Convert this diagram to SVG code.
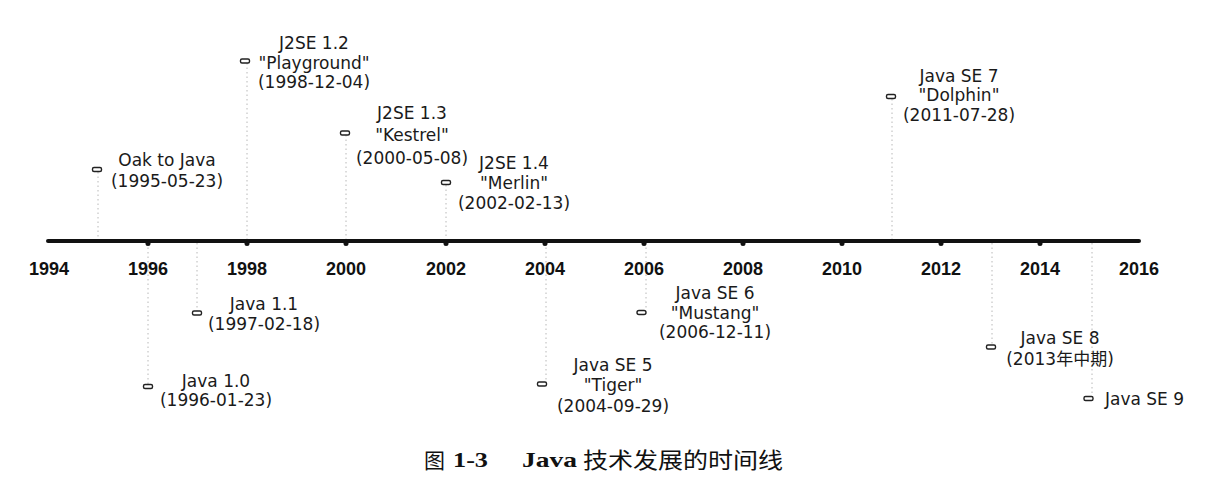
<svg xmlns="http://www.w3.org/2000/svg" width="1227" height="504" viewBox="0 0 1227 504">
<style>
.lbl{font-family:"DejaVu Sans","Noto Sans CJK SC",sans-serif;font-size:17px;fill:#1a1a1a;text-anchor:middle}
.yr{font-family:"Liberation Sans",Arial,sans-serif;font-size:18px;font-weight:bold;fill:#111;text-anchor:middle}
.mk{fill:#fff;stroke:#222;stroke-width:1.4}
.guide{stroke:#b8b8b8;stroke-width:1;stroke-dasharray:1.5 3;fill:none}
.cap{font-size:21px;fill:#111}
</style>
<rect width="1227" height="504" fill="#fff"/>
<g id="connectors">
<line class="guide" x1="98" y1="172" x2="98" y2="239"/>
<line class="guide" x1="247" y1="63" x2="247" y2="239"/>
<line class="guide" x1="346" y1="135" x2="346" y2="239"/>
<line class="guide" x1="446" y1="185" x2="446" y2="239"/>
<line class="guide" x1="892" y1="99" x2="892" y2="239"/>
<line class="guide" x1="148" y1="243" x2="148" y2="384"/>
<line class="guide" x1="197" y1="243" x2="197" y2="311"/>
<line class="guide" x1="546" y1="243" x2="546" y2="382"/>
<line class="guide" x1="646" y1="243" x2="646" y2="310"/>
<line class="guide" x1="992" y1="243" x2="992" y2="345"/>
<line class="guide" x1="1092" y1="243" x2="1092" y2="396"/>
</g>
<g id="axis">
<line x1="48" y1="241" x2="1139" y2="241" stroke="#111" stroke-width="4" stroke-linecap="round"/>
<g fill="#111">
<circle cx="148" cy="243.5" r="2.5"/><circle cx="247" cy="243.5" r="2.5"/><circle cx="346" cy="243.5" r="2.5"/><circle cx="446" cy="243.5" r="2.5"/><circle cx="545" cy="243.5" r="2.5"/><circle cx="644" cy="243.5" r="2.5"/><circle cx="743" cy="243.5" r="2.5"/><circle cx="842" cy="243.5" r="2.5"/><circle cx="941" cy="243.5" r="2.5"/><circle cx="1040" cy="243.5" r="2.5"/>
</g>
<text class="yr" x="49" y="275">1994</text>
<text class="yr" x="148" y="275">1996</text>
<text class="yr" x="247" y="275">1998</text>
<text class="yr" x="346" y="275">2000</text>
<text class="yr" x="446" y="275">2002</text>
<text class="yr" x="545" y="275">2004</text>
<text class="yr" x="644" y="275">2006</text>
<text class="yr" x="743" y="275">2008</text>
<text class="yr" x="842" y="275">2010</text>
<text class="yr" x="941" y="275">2012</text>
<text class="yr" x="1040" y="275">2014</text>
<text class="yr" x="1139" y="275">2016</text>
</g>
<g id="oak">
<rect class="mk" x="92.5" y="167.5" width="9" height="4" rx="1.5"/>
<text class="lbl" x="167" y="166">Oak to Java</text>
<text class="lbl" x="167" y="187">(1995-05-23)</text>
</g>
<g id="j2se12">
<rect class="mk" x="240.5" y="59" width="9" height="4" rx="1.5"/>
<text class="lbl" x="314" y="49">J2SE 1.2</text>
<text class="lbl" x="314" y="68.5">"Playground"</text>
<text class="lbl" x="314" y="88">(1998-12-04)</text>
</g>
<g id="j2se13">
<rect class="mk" x="340.5" y="131" width="9" height="4" rx="1.5"/>
<text class="lbl" x="412" y="118.5">J2SE 1.3</text>
<text class="lbl" x="412" y="141">"Kestrel"</text>
<text class="lbl" x="412" y="164">(2000-05-08)</text>
</g>
<g id="j2se14">
<rect class="mk" x="441.5" y="180.5" width="9" height="4" rx="1.5"/>
<text class="lbl" x="514" y="169">J2SE 1.4</text>
<text class="lbl" x="514" y="189">"Merlin"</text>
<text class="lbl" x="514" y="209">(2002-02-13)</text>
</g>
<g id="se7">
<rect class="mk" x="886.5" y="94.5" width="9" height="4" rx="1.5"/>
<text class="lbl" x="959" y="81.5">Java SE 7</text>
<text class="lbl" x="959" y="101">"Dolphin"</text>
<text class="lbl" x="959" y="121">(2011-07-28)</text>
</g>
<g id="java10">
<rect class="mk" x="143.5" y="384.5" width="9" height="4" rx="1.5"/>
<text class="lbl" x="216" y="386.5">Java 1.0</text>
<text class="lbl" x="216" y="406">(1996-01-23)</text>
</g>
<g id="java11">
<rect class="mk" x="192.5" y="311" width="9" height="4" rx="1.5"/>
<text class="lbl" x="264" y="310">Java 1.1</text>
<text class="lbl" x="264" y="330">(1997-02-18)</text>
</g>
<g id="se5">
<rect class="mk" x="537.5" y="382" width="9" height="4" rx="1.5"/>
<text class="lbl" x="613" y="371">Java SE 5</text>
<text class="lbl" x="613" y="391">"Tiger"</text>
<text class="lbl" x="613" y="411.5">(2004-09-29)</text>
</g>
<g id="se6">
<rect class="mk" x="637" y="310.5" width="9" height="4" rx="2"/>
<text class="lbl" x="715" y="299">Java SE 6</text>
<text class="lbl" x="715" y="318.5">"Mustang"</text>
<text class="lbl" x="715" y="338">(2006-12-11)</text>
</g>
<g id="se8">
<rect class="mk" x="986.5" y="345" width="9" height="4" rx="1.5"/>
<text class="lbl" x="1060" y="344">Java SE 8</text>
<text class="lbl" x="1060" y="365">(2013年中期)</text>
</g>
<g id="se9">
<rect class="mk" x="1084" y="396.5" width="9" height="4" rx="1.5"/>
<text class="lbl" x="1105" y="405" style="text-anchor:start">Java SE 9</text>
</g>
<g id="caption">
<text class="cap" x="424" y="468" style="font-family:'Noto Sans CJK SC',sans-serif">图</text>
<text class="cap" x="453" y="467" textLength="35" lengthAdjust="spacingAndGlyphs" style="font-family:'Liberation Serif',serif;font-weight:bold">1-3</text>
<text class="cap" x="522" y="467" textLength="55" lengthAdjust="spacingAndGlyphs" style="font-family:'Liberation Serif',serif;font-weight:bold">Java</text>
<text class="cap" x="583" y="468" textLength="200" lengthAdjust="spacingAndGlyphs" style="font-family:'Noto Sans CJK SC',sans-serif;font-size:22px">技术发展的时间线</text>
</g>
</svg>
